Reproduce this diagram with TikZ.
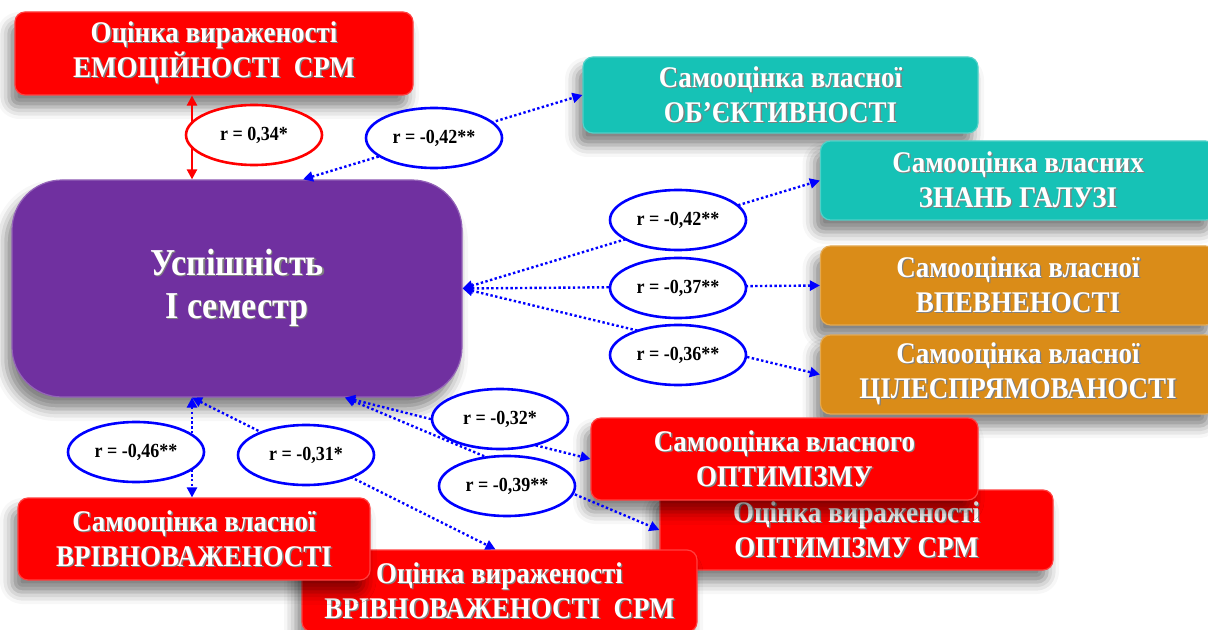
\documentclass[tikz,border=0pt]{standalone}
\usepackage{fontspec}
\setmainfont[FakeStretch=0.9]{Liberation Serif}
\usetikzlibrary{positioning,shapes.geometric,arrows.meta,shadows.blur}

\definecolor{boxred}{RGB}{255,0,0}
\definecolor{boxteal}{RGB}{22,194,182}
\definecolor{boxorange}{RGB}{218,140,24}
\definecolor{boxpurple}{RGB}{112,48,160}

% white text with a dark shadow
\newcommand{\stxt}[1]{\makebox[0pt][l]{\raisebox{-0.7pt}{\hspace{0.7pt}\color{black!50}#1}}#1}

\tikzset{
  box/.style={rounded corners=5pt, draw=#1!75!white, line width=0.6pt, fill=#1,
    text=white, font=\bfseries\fontsize{15}{17.5}\selectfont, align=center, inner sep=0pt,
    blur shadow={shadow xshift=-3pt, shadow yshift=-6pt, shadow blur radius=6pt, shadow opacity=50}},
  tipboth/.style={{Triangle[length=5pt,width=5pt]}-{Triangle[length=5pt,width=5pt]}},
  corr/.style={tipboth, blue, line width=1.2pt, dash pattern=on 1.2pt off 1.2pt},
  corrred/.style={tipboth, red, line width=1.2pt},
  rcirc/.style={ellipse, draw=blue, line width=1.3pt, fill=white, minimum width=68pt,
    minimum height=30pt, inner sep=0pt, font=\bfseries\fontsize{10}{11}\selectfont},
}

\begin{document}
\begin{tikzpicture}[x=0.5pt, y=-0.5pt]
    \useasboundingbox (0,0) rectangle (1208,630);

    % boxes
    \node[box=boxred, minimum width=199pt, minimum height=41.5pt] (emo) at (214,53.5)
        {\stxt{Оцінка вираженості}\\\stxt{ЕМОЦІЙНОСТІ\ \ СРМ}};
    \node[box=boxteal, minimum width=197.5pt, minimum height=38pt] (obj) at (780.5,95)
        {\stxt{Самооцінка власної}\\\stxt{ОБ’ЄКТИВНОСТІ}};
    \node[box=boxteal, minimum width=197.5pt, minimum height=39.5pt] (znan) at (1018,180.5)
        {\stxt{Самооцінка власних}\\\stxt{ЗНАНЬ ГАЛУЗІ}};
    \node[box=boxorange, minimum width=197.5pt, minimum height=39.5pt] (vpev) at (1018,285.5)
        {\stxt{Самооцінка власної}\\\stxt{ВПЕВНЕНОСТІ}};
    \node[box=boxorange, minimum width=197.5pt, minimum height=39.5pt] (tsil) at (1018,374.5)
        {\stxt{Самооцінка власної}\\\stxt{ЦІЛЕСПРЯМОВАНОСТІ}};
    \node[box=boxpurple, rounded corners=25pt, font=\bfseries\fontsize{19}{21.5}\selectfont,
        minimum width=225pt, minimum height=108.5pt] (main) at (237,288.5)
        {\stxt{Успішність}\\\stxt{І семестр}};
    \node[box=boxred, minimum width=196.5pt, minimum height=40pt] (optsrm) at (856.5,530)
        {\stxt{Оцінка вираженості}\\\stxt{ОПТИМІЗМУ СРМ}};
    \node[box=boxred, minimum width=193.5pt, minimum height=41pt] (opt) at (784.5,459)
        {\stxt{Самооцінка власного}\\\stxt{ОПТИМІЗМУ}};
    \node[box=boxred, minimum width=197.5pt, minimum height=41pt] (vrivsrm) at (499.5,591)
        {\stxt{Оцінка вираженості}\\\stxt{ВРІВНОВАЖЕНОСТІ\ \ СРМ}};
    \node[box=boxred, minimum width=176pt, minimum height=41pt] (vriv) at (194,539)
        {\stxt{Самооцінка власної}\\\stxt{ВРІВНОВАЖЕНОСТІ}};

    % connectors
    \draw[corrred] ([xshift=-11pt]emo.south) -- ([xshift=-22.5pt]main.north);
    \draw[corr] ([xshift=33pt]main.north) -- (obj.west);
    \draw[corr] (main.east) -- (znan.west);
    \draw[corr] (main.east) -- (vpev.west);
    \draw[corr] (main.east) -- (tsil.west);
    \draw[corr] ([xshift=54pt]main.south) -- (opt.west);
    \draw[corr] ([xshift=54pt]main.south) -- (optsrm.west);
    \draw[corr] ([xshift=-22.5pt]main.south) -- ([xshift=-1pt]vriv.north);
    \draw[corr] ([xshift=-22.5pt]main.south) -- ([xshift=-2pt]vrivsrm.north);

    % coefficients
    \node[rcirc, draw=red] (r1) at (254,135) {r = 0,34*};
    \node[rcirc] (r2) at (434,138) {r = -0,42**};
    \node[rcirc] (r3) at (678,220) {r = -0,42**};
    \node[rcirc] (r4) at (678,288) {r = -0,37**};
    \node[rcirc] (r5) at (678,355) {r = -0,36**};
    \node[rcirc] (r6) at (500,419) {r = -0,32*};
    \node[rcirc] (r7) at (507,486) {r = -0,39**};
    \node[rcirc] (r8) at (136,452) {r = -0,46**};
    \node[rcirc] (r9) at (306,455) {r = -0,31*};
\end{tikzpicture}
\end{document}
